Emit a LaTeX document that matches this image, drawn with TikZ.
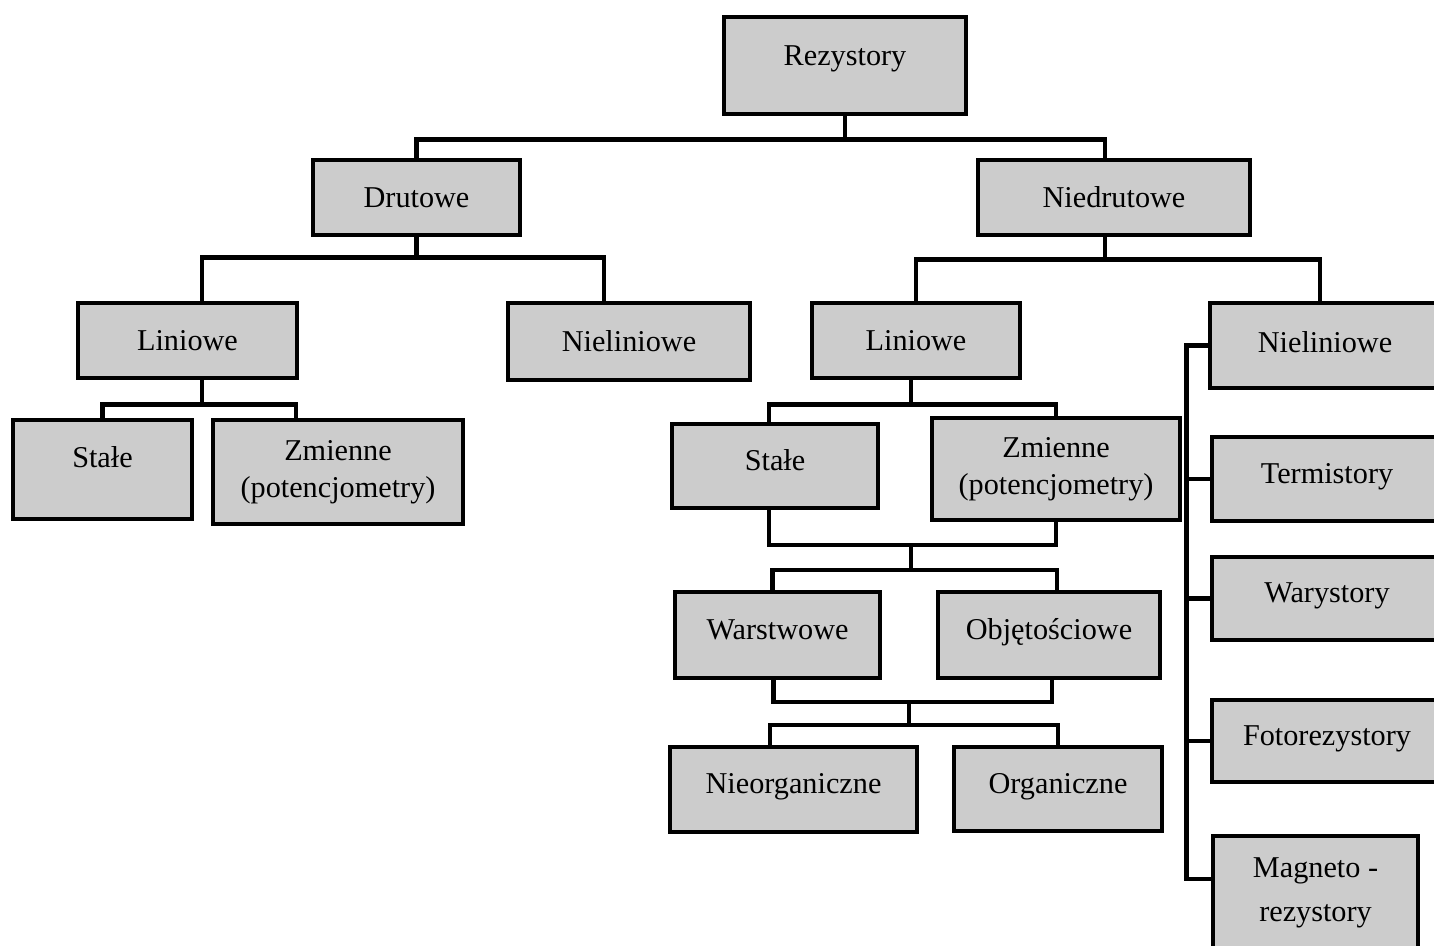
\documentclass[tikz,border=0pt]{standalone}
\usepackage{fontspec}
\setmainfont{Liberation Serif}
\definecolor{szary}{gray}{0.8}
\tikzset{every node/.style={draw,fill=szary,rectangle,line width=1.3pt,inner sep=0pt,align=center,font=\fontsize{8.6}{10.4}\selectfont,text height=7pt,text depth=4.5pt},
polacz/.style={draw,line width=1.3pt},
srodek/.style={text depth=1.2pt}}

\begin{document}
\begin{tikzpicture}[x=0.01cm,y=-0.01cm]
\useasboundingbox (0,0) rectangle (1434,945);
\path
(845,65.5) node(1)[minimum width=2.42cm,minimum height=0.97cm,text depth=7pt]{Rezystory}
(416.5,197.5) node(2)[srodek,minimum width=2.07cm,minimum height=0.75cm]{Drutowe}
(1114,197.5) node(3)[srodek,minimum width=2.72cm,minimum height=0.75cm]{Niedrutowe}
(187.5,340.5) node(4)[srodek,minimum width=2.19cm,minimum height=0.75cm]{Liniowe}
(629,341.5) node(5)[srodek,minimum width=2.42cm,minimum height=0.77cm]{Nieliniowe}
(102.5,469.5) node(6)[minimum width=1.79cm,minimum height=0.99cm,text depth=8pt]{Stałe}
(338,472) node(7)[minimum width=2.5cm,minimum height=1.04cm,text height=,text depth=]{Zmienne\\(potencjometry)}
(916,340.5) node(8)[srodek,minimum width=2.08cm,minimum height=0.75cm]{Liniowe}
(1325,345.5) node(9)[minimum width=2.3cm,minimum height=0.85cm,text depth=3.3pt]{Nieliniowe}
(775,466) node(10)[minimum width=2.06cm,minimum height=0.84cm]{Stałe}
(1056,469) node(11)[minimum width=2.48cm,minimum height=1.02cm,text height=,text depth=]{Zmienne\\(potencjometry)}
(777.5,635) node(12)[minimum width=2.05cm,minimum height=0.86cm]{Warstwowe}
(1049,635) node(13)[minimum width=2.22cm,minimum height=0.86cm]{Objętościowe}
(793.5,789.5) node(14)[minimum width=2.47cm,minimum height=0.85cm]{Nieorganiczne}
(1058,789) node(15)[minimum width=2.08cm,minimum height=0.84cm]{Organiczne}
(1327,479) node(16)[minimum width=2.3cm,minimum height=0.84cm]{Termistory}
(1327,598.5) node(17)[minimum width=2.3cm,minimum height=0.83cm]{Warystory}
(1327,741) node(18)[minimum width=2.3cm,minimum height=0.82cm]{Fotorezystory}
(1315.5,893) node(19)[minimum width=2.05cm,minimum height=1.14cm,text height=,text depth=]{Magneto -\\[2pt]rezystory};
\path[polacz] (1.south) -- ++(0,23) coordinate(a1);
\path[polacz] (2.north) |- (a1) -| ([shift={(-9,0)}]3.north);
\path[polacz] (2.south) -- ++(0,20) coordinate(a2);
\path[polacz] ([shift={(14.5,0)}]4.north) |- (a2) -| ([shift={(-25,0)}]5.north);
\path[polacz] ([shift={(14.5,0)}]4.south) -- ++(0,24) coordinate(a3);
\path[polacz] (6.north) |- (a3) -| ([shift={(-42,0)}]7.north);
\path[polacz] ([shift={(-9,0)}]3.south) -- ++(0,22) coordinate(a4);
\path[polacz] (8.north) |- (a4) -| ([shift={(-5,0)}]9.north);
\path[polacz] ([shift={(-5,0)}]8.south) -- ++(0,24) coordinate(a5);
\path[polacz] ([shift={(-6,0)}]10.north) |- (a5) -| (11.north);
\coordinate (a6) at (911,545);
\path[polacz] ([shift={(-6,0)}]10.south) |- (a6) -| (11.south);
\path[polacz] (a6) -- ++(0,25) coordinate(a7);
\path[polacz] ([shift={(-5,0)}]12.north) |- (a7) -| ([shift={(8,0)}]13.north);
\coordinate (a8) at (909,702);
\path[polacz] ([shift={(-4,0)}]12.south) |- (a8) -| ([shift={(3,0)}]13.south);
\path[polacz] (a8) -- ++(0,23) coordinate(a9);
\path[polacz] ([shift={(-23.5,0)}]14.north) |- (a9) -| (15.north);
\path[polacz] (9.west) -- ++(-21,0) coordinate(b) |- ([shift={(0,-14)}]19.west);
\foreach \n in {16,17,18} \path[polacz] (\n.west) -- (\n.west -| b);
\end{tikzpicture}
\end{document}
